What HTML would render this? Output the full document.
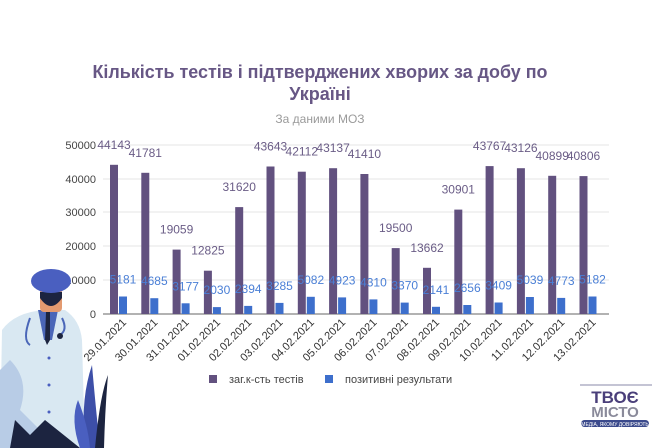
<!DOCTYPE html>
<html><head><meta charset="utf-8"><style>
html,body{margin:0;padding:0;background:#fff;width:672px;height:448px;overflow:hidden}
svg{display:block;font-family:"Liberation Sans",sans-serif}
</style></head><body>
<svg width="672" height="448" viewBox="0 0 672 448">
<rect width="672" height="448" fill="#fff"/>
<text x="320" y="78" text-anchor="middle" font-size="18" font-weight="bold" fill="#675785" textLength="455" lengthAdjust="spacingAndGlyphs">Кількість тестів і підтверджених хворих за добу по</text>
<text x="320" y="100" text-anchor="middle" font-size="18" font-weight="bold" fill="#675785">Україні</text>
<text x="320" y="123" text-anchor="middle" font-size="12" fill="#9a9a9a">За даними МОЗ</text>
<g stroke="#e4e4e4" stroke-width="1">
<line x1="103" x2="609" y1="145" y2="145"/><line x1="103" x2="609" y1="179" y2="179"/>
<line x1="103" x2="609" y1="212" y2="212"/><line x1="103" x2="609" y1="246" y2="246"/>
<line x1="103" x2="609" y1="280" y2="280"/>
</g>
<line x1="103" x2="609" y1="314" y2="314" stroke="#666" stroke-width="1"/>
<g font-size="11" fill="#444" text-anchor="end">
<text x="96" y="149">50000</text><text x="96" y="183">40000</text><text x="96" y="216">30000</text>
<text x="96" y="250">20000</text><text x="96" y="284">10000</text><text x="96" y="318">0</text>
</g>
<g fill="#62517f">
<rect x="110" y="164.8" width="8" height="149.2"/><rect x="141.3" y="172.8" width="8" height="141.2"/>
<rect x="172.6" y="249.6" width="8" height="64.4"/><rect x="203.9" y="270.7" width="8" height="43.3"/>
<rect x="235.2" y="207.1" width="8" height="106.9"/><rect x="266.5" y="166.5" width="8" height="147.5"/>
<rect x="297.8" y="171.7" width="8" height="142.3"/><rect x="329.1" y="168.2" width="8" height="145.8"/>
<rect x="360.4" y="174" width="8" height="140"/><rect x="391.7" y="248.1" width="8" height="65.9"/>
<rect x="423" y="267.8" width="8" height="46.2"/><rect x="454.3" y="209.6" width="8" height="104.4"/>
<rect x="485.6" y="166.1" width="8" height="147.9"/><rect x="516.9" y="168.2" width="8" height="145.8"/>
<rect x="548.2" y="175.8" width="8" height="138.2"/><rect x="579.5" y="176.1" width="8" height="137.9"/>
</g>
<g fill="#3d6fcc">
<rect x="119" y="296.5" width="8" height="17.5"/><rect x="150.3" y="298.2" width="8" height="15.8"/>
<rect x="181.6" y="303.3" width="8" height="10.7"/><rect x="212.9" y="307.1" width="8" height="6.9"/>
<rect x="244.2" y="305.9" width="8" height="8.1"/><rect x="275.5" y="302.9" width="8" height="11.1"/>
<rect x="306.8" y="296.8" width="8" height="17.2"/><rect x="338.1" y="297.4" width="8" height="16.6"/>
<rect x="369.4" y="299.4" width="8" height="14.6"/><rect x="400.7" y="302.6" width="8" height="11.4"/>
<rect x="432" y="306.8" width="8" height="7.2"/><rect x="463.3" y="305" width="8" height="9"/>
<rect x="494.6" y="302.5" width="8" height="11.5"/><rect x="525.9" y="297" width="8" height="17"/>
<rect x="557.2" y="297.9" width="8" height="16.1"/><rect x="588.5" y="296.5" width="8" height="17.5"/>
</g>
<g font-size="12" fill="#6a5c86" text-anchor="middle">
<text x="114" y="148.8">44143</text><text x="145.3" y="156.8">41781</text><text x="176.6" y="233.6">19059</text>
<text x="207.9" y="254.7">12825</text><text x="239.2" y="191.1">31620</text><text x="270.5" y="150.5">43643</text>
<text x="301.8" y="155.7">42112</text><text x="333.1" y="152.2">43137</text><text x="364.4" y="158">41410</text>
<text x="395.7" y="232.1">19500</text><text x="427" y="251.8">13662</text><text x="458.3" y="193.6">30901</text>
<text x="489.6" y="150.1">43767</text><text x="520.9" y="152.2">43126</text><text x="552.2" y="159.8">40899</text>
<text x="583.5" y="160.1">40806</text>
</g>
<g font-size="12" fill="#4a7fd6" text-anchor="middle">
<text x="123" y="283.5">5181</text><text x="154.3" y="285.2">4685</text><text x="185.6" y="290.3">3177</text>
<text x="216.9" y="294.1">2030</text><text x="248.2" y="292.9">2394</text><text x="279.5" y="289.9">3285</text>
<text x="310.8" y="283.8">5082</text><text x="342.1" y="284.4">4923</text><text x="373.4" y="286.4">4310</text>
<text x="404.7" y="289.6">3370</text><text x="436" y="293.8">2141</text><text x="467.3" y="292">2656</text>
<text x="498.6" y="289.5">3409</text><text x="529.9" y="284">5039</text><text x="561.2" y="284.9">4773</text>
<text x="592.5" y="283.5">5182</text>
</g>
<g font-size="11" fill="#333" text-anchor="end">
<text transform="translate(127,323) rotate(-45)">29.01.2021</text>
<text transform="translate(158.3,323) rotate(-45)">30.01.2021</text>
<text transform="translate(189.6,323) rotate(-45)">31.01.2021</text>
<text transform="translate(220.9,323) rotate(-45)">01.02.2021</text>
<text transform="translate(252.2,323) rotate(-45)">02.02.2021</text>
<text transform="translate(283.5,323) rotate(-45)">03.02.2021</text>
<text transform="translate(314.8,323) rotate(-45)">04.02.2021</text>
<text transform="translate(346.1,323) rotate(-45)">05.02.2021</text>
<text transform="translate(377.4,323) rotate(-45)">06.02.2021</text>
<text transform="translate(408.7,323) rotate(-45)">07.02.2021</text>
<text transform="translate(440,323) rotate(-45)">08.02.2021</text>
<text transform="translate(471.3,323) rotate(-45)">09.02.2021</text>
<text transform="translate(502.6,323) rotate(-45)">10.02.2021</text>
<text transform="translate(533.9,323) rotate(-45)">11.02.2021</text>
<text transform="translate(565.2,323) rotate(-45)">12.02.2021</text>
<text transform="translate(596.5,323) rotate(-45)">13.02.2021</text>
</g>
<rect x="209" y="375" width="8" height="8" fill="#62517f"/>
<text x="229" y="383" font-size="11" fill="#444">заг.к-сть тестів</text>
<rect x="325" y="375" width="8" height="8" fill="#3d6fcc"/>
<text x="345" y="383" font-size="11" fill="#444">позитивні результати</text>
<!-- doctor -->
<path d="M2 330 Q15 312 45 310 L65 310 Q80 320 82 340 L85 448 L0 448 Z" fill="#d9e8f2"/>
<path d="M10 360 Q30 380 20 410 L40 430 L10 448 L0 448 L0 370 Z" fill="#b8cce6"/>
<path d="M38 310 L58 310 L52 340 L44 340 Z" fill="#4a66b8"/>
<path d="M46 312 L50 312 L50 340 L47 345 L45 340 Z" fill="#1c2440"/>
<rect x="40" y="288" width="22" height="24" rx="4" fill="#e39a70"/>
<path d="M40 298 Q51 314 62 298 L62 292 L40 292 Z" fill="#1c2440"/>
<ellipse cx="51" cy="281" rx="20" ry="12" fill="#4a5fc0"/>
<path d="M30 318 Q22 340 30 345 M62 318 Q68 330 60 335" stroke="#4a66b8" stroke-width="2" fill="none"/>
<circle cx="60" cy="336" r="3" fill="#1c2440"/>
<circle cx="49" cy="358" r="1.5" fill="#4a5fc0"/><circle cx="49" cy="385" r="1.5" fill="#4a5fc0"/><circle cx="49" cy="412" r="1.5" fill="#4a5fc0"/>
<path d="M10 448 L15 420 L30 435 L45 420 L80 448 Z" fill="#1c2440"/>
<path d="M85 448 Q80 400 92 365 Q95 400 100 448 Z" fill="#3d4fa8"/>
<path d="M95 448 Q100 395 108 375 Q105 410 104 448 Z" fill="#1c2440"/>
<path d="M80 448 Q70 420 78 400 Q88 425 90 448 Z" fill="#4a5fc0"/>
<!-- logo -->
<line x1="580" y1="385" x2="652" y2="385" stroke="#8a8aa8" stroke-width="1"/>
<text x="615" y="403" text-anchor="middle" font-size="17" font-weight="bold" fill="#4a3f7a">ТВОЄ</text>
<text x="615" y="417" text-anchor="middle" font-size="15" font-weight="bold" fill="#8a8a9a">МІСТО</text>
<rect x="581" y="420" width="68" height="7" rx="3.5" fill="#3b4a8c"/>
<text x="615" y="426" text-anchor="middle" font-size="5" fill="#fff">МЕДІА, ЯКОМУ ДОВІРЯЮТЬ</text>
</svg>
</body></html>
